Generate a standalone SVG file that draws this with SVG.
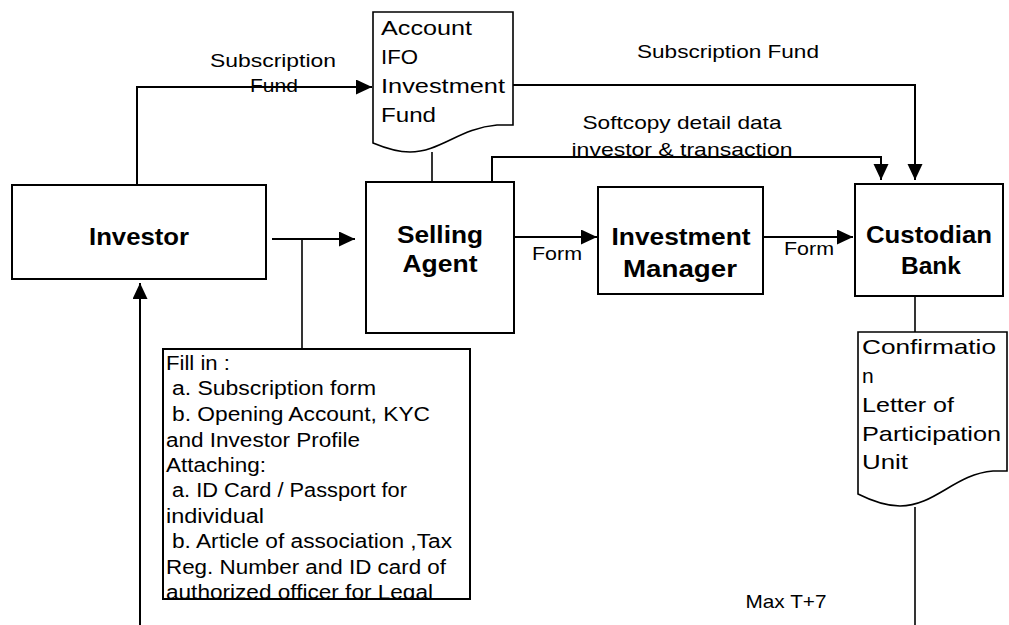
<svg xmlns="http://www.w3.org/2000/svg" width="1009" height="625" viewBox="0 0 1009 625">
<style>
text{font-family:"Liberation Sans",Arial,sans-serif;fill:#000}
.n{font-size:23px;font-weight:bold;text-anchor:middle}
.l{font-size:19px}
.c{text-anchor:middle}
.d{font-size:21px}
.f{font-size:20px}
.box{fill:#fff;stroke:#000;stroke-width:2}
.doc{fill:#fff;stroke:#000;stroke-width:1.6}
.ln{fill:none;stroke:#000;stroke-width:2}
.tl{fill:none;stroke:#000;stroke-width:1.6}
</style>
<defs>
<marker id="ah" markerUnits="userSpaceOnUse" markerWidth="17" markerHeight="16" refX="16" refY="7.5" orient="auto">
<path d="M0,0 L16,7.5 L0,15 z" fill="#000"/>
</marker>
</defs>
<g id="connectors">
<path class="ln" d="M137,185 V87 H372" marker-end="url(#ah)"/>
<path class="ln" d="M513,85 H915 V180" marker-end="url(#ah)"/>
<path class="ln" d="M492,182 V157 H881 V180" marker-end="url(#ah)"/>
<path class="tl" d="M432,152 V182"/>
<path class="ln" d="M272,239 H355" marker-end="url(#ah)"/>
<path class="tl" d="M302,239 V348"/>
<path class="ln" d="M514,237 H597" marker-end="url(#ah)"/>
<path class="ln" d="M763,237 H853" marker-end="url(#ah)"/>
<path class="tl" d="M915,296 V332"/>
<path class="tl" d="M915,507 V625"/>
<path class="ln" d="M140,625 V283" marker-end="url(#ah)"/>
</g>
<g id="labels">
<text class="l c" x="273" y="67" textLength="126" lengthAdjust="spacingAndGlyphs">Subscription</text>
<text class="l c" x="274" y="92" textLength="48" lengthAdjust="spacingAndGlyphs">Fund</text>
<text class="l c" x="728" y="58" textLength="182" lengthAdjust="spacingAndGlyphs">Subscription Fund</text>
<text class="l c" x="682" y="129" textLength="199" lengthAdjust="spacingAndGlyphs">Softcopy detail data</text>
<text class="l c" x="682" y="156" textLength="221" lengthAdjust="spacingAndGlyphs">investor &amp; transaction</text>
<text class="l c" x="557" y="260" textLength="50" lengthAdjust="spacingAndGlyphs">Form</text>
<text class="l c" x="809" y="255" textLength="50" lengthAdjust="spacingAndGlyphs">Form</text>
<text class="l c" x="786" y="608" textLength="81" lengthAdjust="spacingAndGlyphs">Max T+7</text>
</g>
<g id="account">
<path class="doc" d="M373,12 H513 V125 H497 C460,128 440,152 410,152 C398,152 385,148 373,143 Z"/>
<text class="d" x="381" y="35" textLength="91" lengthAdjust="spacingAndGlyphs">Account</text>
<text class="d" x="381" y="64" textLength="37" lengthAdjust="spacingAndGlyphs">IFO</text>
<text class="d" x="381" y="93" textLength="124" lengthAdjust="spacingAndGlyphs">Investment</text>
<text class="d" x="381" y="122" textLength="55" lengthAdjust="spacingAndGlyphs">Fund</text>
</g>
<g id="investor">
<rect class="box" x="12" y="185" width="254" height="94"/>
<text class="n" x="139" y="245" textLength="100" lengthAdjust="spacingAndGlyphs">Investor</text>
</g>
<g id="selling-agent">
<rect class="box" x="366" y="182" width="148" height="151"/>
<text class="n" x="440" y="243" textLength="86" lengthAdjust="spacingAndGlyphs">Selling</text>
<text class="n" x="440" y="272" textLength="75" lengthAdjust="spacingAndGlyphs">Agent</text>
</g>
<g id="investment-manager">
<rect class="box" x="598" y="187" width="165" height="107"/>
<text class="n" x="681" y="245" textLength="139" lengthAdjust="spacingAndGlyphs">Investment</text>
<text class="n" x="680" y="277" textLength="114" lengthAdjust="spacingAndGlyphs">Manager</text>
</g>
<g id="custodian-bank">
<rect class="box" x="855" y="184" width="148" height="112"/>
<text class="n" x="929" y="243" textLength="126" lengthAdjust="spacingAndGlyphs">Custodian</text>
<text class="n" x="931" y="274" textLength="60" lengthAdjust="spacingAndGlyphs">Bank</text>
</g>
<g id="confirmation">
<path class="doc" d="M858,332 H1007 V471 H993 C955,474 935,506 900,506 C885,506 870,500 858,494 Z"/>
<text class="d" x="862" y="354" textLength="134" lengthAdjust="spacingAndGlyphs">Confirmatio</text>
<text class="d" x="862" y="383">n</text>
<text class="d" x="862" y="412" textLength="92" lengthAdjust="spacingAndGlyphs">Letter of</text>
<text class="d" x="862" y="441" textLength="139" lengthAdjust="spacingAndGlyphs">Participation</text>
<text class="d" x="862" y="469" textLength="46" lengthAdjust="spacingAndGlyphs">Unit</text>
</g>
<g id="fill-in">
<clipPath id="fc"><rect x="163" y="349" width="307" height="250"/></clipPath>
<rect class="box" x="163" y="349" width="307" height="250"/>
<g clip-path="url(#fc)">
<text class="f" x="166" y="370" textLength="64" lengthAdjust="spacingAndGlyphs">Fill in :</text>
<text class="f" x="172" y="395" textLength="204" lengthAdjust="spacingAndGlyphs">a. Subscription form</text>
<text class="f" x="172" y="421" textLength="258" lengthAdjust="spacingAndGlyphs">b.  Opening Account, KYC</text>
<text class="f" x="166" y="447" textLength="194" lengthAdjust="spacingAndGlyphs">and Investor Profile</text>
<text class="f" x="166" y="472" textLength="100" lengthAdjust="spacingAndGlyphs">Attaching:</text>
<text class="f" x="172" y="497" textLength="235" lengthAdjust="spacingAndGlyphs">a. ID Card / Passport for</text>
<text class="f" x="166" y="523" textLength="98" lengthAdjust="spacingAndGlyphs">individual</text>
<text class="f" x="172" y="548" textLength="280" lengthAdjust="spacingAndGlyphs">b. Article of association ,Tax</text>
<text class="f" x="166" y="574" textLength="280" lengthAdjust="spacingAndGlyphs">Reg. Number and ID card of</text>
<text class="f" x="166" y="599" textLength="267" lengthAdjust="spacingAndGlyphs">authorized officer for Legal</text>
</g>
</g>
</svg>
